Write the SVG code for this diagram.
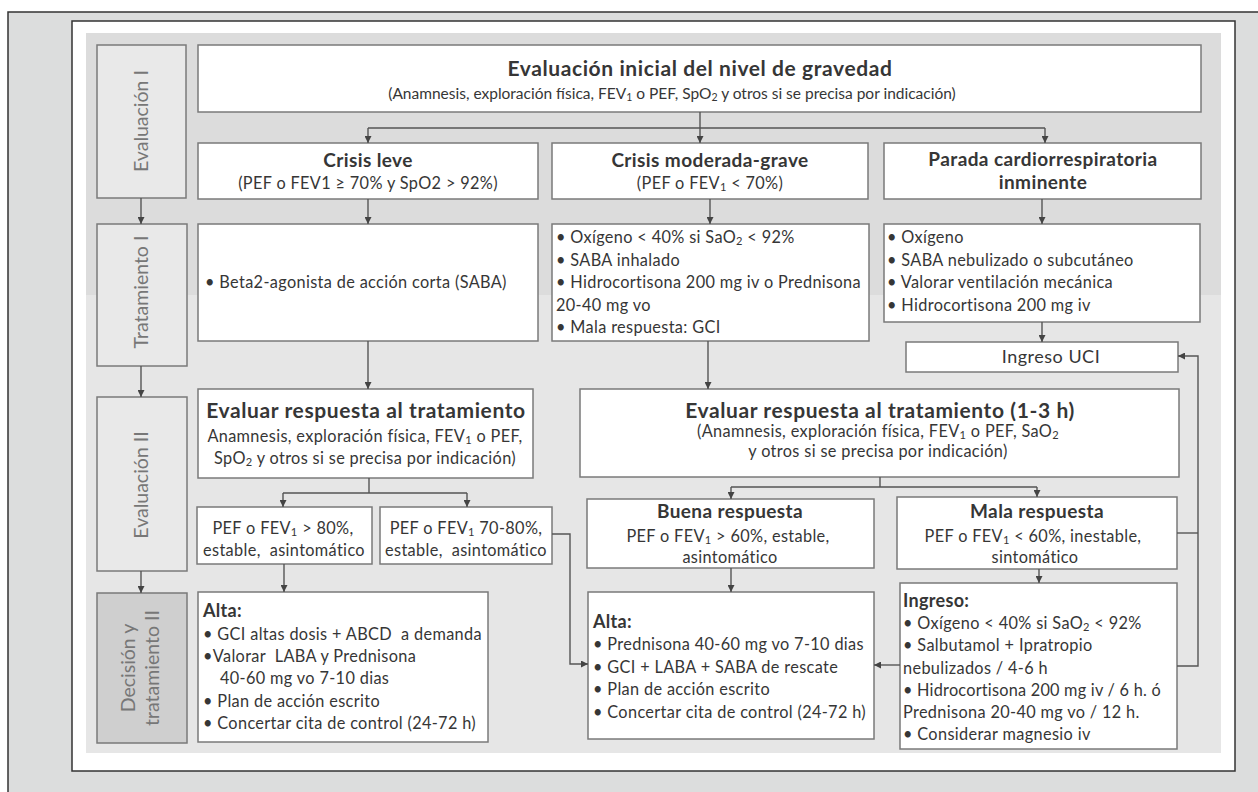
<svg xmlns="http://www.w3.org/2000/svg" width="1258" height="792" viewBox="0 0 1258 792">
<style>
  text { font-family: Lato, "Liberation Sans", "DejaVu Sans", sans-serif; fill: #363636; }
  .box { fill: #ffffff; stroke: #7a7a7a; stroke-width: 1.5; }
  .lab { fill: #e9e9e9; stroke: #7a7a7a; stroke-width: 1.5; }
  .labd { fill: #cfcfcf; stroke: #7a7a7a; stroke-width: 1.5; }
  .lt { font-size: 19.5px; fill: #777777; text-anchor: middle; }
  .h1 { font-size: 21px; font-weight: bold; letter-spacing: 0.6px; text-anchor: middle; }
  .h2 { font-size: 19px; font-weight: bold; letter-spacing: 0.4px; text-anchor: middle; }
  .c { font-size: 16.3px; letter-spacing: 0.35px; text-anchor: middle; }
  .sub15 { font-size: 15.5px; text-anchor: middle; }
  .b { font-size: 16.3px; letter-spacing: 0.35px; }
  .bb { font-size: 18px; font-weight: bold; letter-spacing: 0.3px; }
  .uci { font-size: 18px; letter-spacing: 0.5px; text-anchor: middle; }
  .s { font-size: 68%; baseline-shift: -22%; }
  .con { fill: none; stroke: #555; stroke-width: 1.4; }
  .arr { fill: none; stroke: #555; stroke-width: 1.4; marker-end: url(#ah); }
</style>
<defs>
  <marker id="ah" viewBox="0 0 8 8" refX="8" refY="4" markerWidth="7" markerHeight="7" markerUnits="userSpaceOnUse" orient="auto">
    <path d="M0,0 L8,4 L0,8 z" fill="#444"/>
  </marker>
</defs>

<!-- background frames -->
<rect x="8" y="12" width="1262" height="800" fill="#dcdddd" stroke="#333" stroke-width="1.5"/>
<rect x="72" y="21" width="1163" height="750" fill="#ffffff" stroke="#333" stroke-width="1.5"/>
<rect x="86" y="33" width="1135" height="262" fill="#dcdcdc"/>
<rect x="86" y="295" width="1135" height="458" fill="#e6e6e6"/>

<!-- left column labels -->
<g id="lab-eval1">
  <rect class="lab" x="97" y="45" width="89" height="153"/>
  <text class="lt" transform="translate(141,121) rotate(-90)" y="7">Evaluación I</text>
</g>
<g id="lab-trat1">
  <rect class="lab" x="97" y="224" width="90" height="142"/>
  <text class="lt" transform="translate(141,292) rotate(-90)" y="7">Tratamiento I</text>
</g>
<g id="lab-eval2">
  <rect class="lab" x="97" y="397" width="90" height="174"/>
  <text class="lt" transform="translate(141,485) rotate(-90)" y="7">Evaluación II</text>
</g>
<g id="lab-dec2">
  <rect class="labd" x="97" y="593" width="90" height="150"/>
  <text class="lt" transform="translate(141,668) rotate(-90)"><tspan x="0" y="-6">Decisión y</tspan><tspan x="0" y="18">tratamiento II</tspan></text>
</g>

<!-- nodes -->
<g id="eval-inicial">
  <rect class="box" x="198" y="45" width="1003" height="67"/>
  <text class="h1" x="700" y="76">Evaluación inicial del nivel de gravedad</text>
  <text class="sub15" x="672" y="99">(Anamnesis, exploración física, FEV<tspan class="s">1</tspan> o PEF, SpO<tspan class="s">2</tspan> y otros si se precisa por indicación)</text>
</g>

<g id="crisis-leve">
  <rect class="box" x="198" y="143" width="340" height="56"/>
  <text class="h2" x="368" y="167">Crisis leve</text>
  <text class="c" x="368" y="189">(PEF o FEV1 ≥ 70% y SpO2 &gt; 92%)</text>
</g>
<g id="crisis-mod">
  <rect class="box" x="552" y="143" width="316" height="56"/>
  <text class="h2" x="710" y="167">Crisis moderada-grave</text>
  <text class="c" x="710" y="189">(PEF o FEV<tspan class="s">1</tspan> &lt; 70%)</text>
</g>
<g id="parada">
  <rect class="box" x="884" y="143" width="317" height="56"/>
  <text class="h2" x="1043" y="166">Parada cardiorrespiratoria</text>
  <text class="h2" x="1043" y="189">inminente</text>
</g>

<g id="trat-leve">
  <rect class="box" x="198" y="224" width="340" height="117"/>
  <text class="b" x="205" y="288">• Beta2-agonista de acción corta (SABA)</text>
</g>
<g id="trat-mod">
  <rect class="box" x="552" y="224" width="317" height="117"/>
  <text class="b" x="556" y="243">• Oxígeno &lt; 40% si SaO<tspan class="s">2</tspan> &lt; 92%</text>
  <text class="b" x="556" y="265.5">• SABA inhalado</text>
  <text class="b" x="556" y="288">• Hidrocortisona 200 mg iv o Prednisona</text>
  <text class="b" x="556" y="310.5">20-40 mg vo</text>
  <text class="b" x="556" y="333">• Mala respuesta: GCI</text>
</g>
<g id="trat-parada">
  <rect class="box" x="884" y="224" width="316" height="98"/>
  <text class="b" x="887" y="243">• Oxígeno</text>
  <text class="b" x="887" y="265.5">• SABA nebulizado o subcutáneo</text>
  <text class="b" x="887" y="288">• Valorar ventilación mecánica</text>
  <text class="b" x="887" y="310.5">• Hidrocortisona 200 mg iv</text>
</g>
<g id="ingreso-uci">
  <rect class="box" x="906" y="342" width="272" height="30"/>
  <text class="uci" x="1051" y="363">Ingreso UCI</text>
</g>

<g id="eval-resp-leve">
  <rect class="box" x="198" y="389" width="335" height="89"/>
  <text class="h1" x="366" y="418">Evaluar respuesta al tratamiento</text>
  <text class="c" x="365" y="442">Anamnesis, exploración física, FEV<tspan class="s">1</tspan> o PEF,</text>
  <text class="c" x="365" y="464">SpO<tspan class="s">2</tspan> y otros si se precisa por indicación)</text>
</g>
<g id="eval-resp-mod">
  <rect class="box" x="580" y="389" width="599" height="88"/>
  <text class="h1" x="880" y="418">Evaluar respuesta al tratamiento (1-3 h)</text>
  <text class="c" x="878" y="437">(Anamnesis, exploración física, FEV<tspan class="s">1</tspan> o PEF, SaO<tspan class="s">2</tspan></text>
  <text class="c" x="878" y="457">y otros si se precisa por indicación)</text>
</g>

<g id="resp-80">
  <rect class="box" x="197" y="507" width="175" height="57"/>
  <text class="c" x="283" y="534">PEF o FEV<tspan class="s">1</tspan> &gt; 80%,</text>
  <text class="c" x="284" y="556" xml:space="preserve">estable,  asintomático</text>
</g>
<g id="resp-70-80">
  <rect class="box" x="380" y="507" width="172" height="57"/>
  <text class="c" x="466" y="534">PEF o FEV<tspan class="s">1</tspan> 70-80%,</text>
  <text class="c" x="466" y="556" xml:space="preserve">estable,  asintomático</text>
</g>
<g id="buena">
  <rect class="box" x="587" y="499" width="287" height="69"/>
  <text class="h2" x="730" y="518">Buena respuesta</text>
  <text class="c" x="728" y="542">PEF o FEV<tspan class="s">1</tspan> &gt; 60%, estable,</text>
  <text class="c" x="730" y="563">asintomático</text>
</g>
<g id="mala">
  <rect class="box" x="897" y="497" width="280" height="72"/>
  <text class="h2" x="1037" y="518">Mala respuesta</text>
  <text class="c" x="1033" y="542">PEF o FEV<tspan class="s">1</tspan> &lt; 60%, inestable,</text>
  <text class="c" x="1035" y="563">sintomático</text>
</g>

<g id="alta-leve">
  <rect class="box" x="198" y="592" width="290" height="150"/>
  <text class="bb" x="203" y="617">Alta:</text>
  <text class="b" x="203" y="640" xml:space="preserve">• GCI altas dosis + ABCD  a demanda</text>
  <text class="b" x="203" y="662" xml:space="preserve">•Valorar  LABA y Prednisona</text>
  <text class="b" x="220" y="684">40-60 mg vo 7-10 dias</text>
  <text class="b" x="203" y="707">• Plan de acción escrito</text>
  <text class="b" x="203" y="729">• Concertar cita de control (24-72 h)</text>
</g>
<g id="alta-mod">
  <rect class="box" x="588" y="592" width="286" height="147"/>
  <text class="bb" x="593" y="628">Alta:</text>
  <text class="b" x="593" y="650">• Prednisona 40-60 mg vo 7-10 dias</text>
  <text class="b" x="593" y="673">• GCI + LABA + SABA de rescate</text>
  <text class="b" x="593" y="695">• Plan de acción escrito</text>
  <text class="b" x="593" y="718">• Concertar cita de control (24-72 h)</text>
</g>
<g id="ingreso">
  <rect class="box" x="900" y="583" width="277" height="166"/>
  <text class="bb" x="903" y="607">Ingreso:</text>
  <text class="b" x="903" y="629">• Oxígeno &lt; 40% si SaO<tspan class="s">2</tspan> &lt; 92%</text>
  <text class="b" x="903" y="651">• Salbutamol + Ipratropio</text>
  <text class="b" x="903" y="674">nebulizados / 4-6 h</text>
  <text class="b" x="903" y="696" textLength="258">• Hidrocortisona 200 mg iv / 6 h. ó</text>
  <text class="b" x="903" y="718">Prednisona 20-40 mg vo / 12 h.</text>
  <text class="b" x="903" y="740">• Considerar magnesio iv</text>
</g>

<!-- connectors -->
<g id="connectors">
  <path class="arr" d="M141,198 V224"/>
  <path class="arr" d="M141,366 V397"/>
  <path class="arr" d="M141,571 V593"/>

  <path class="con" d="M700,112 V128"/>
  <path class="con" d="M368,128 H1045"/>
  <path class="arr" d="M368,128 V143"/>
  <path class="arr" d="M700,128 V143"/>
  <path class="arr" d="M1045,128 V143"/>

  <path class="arr" d="M368,199 V224"/>
  <path class="arr" d="M710,199 V224"/>
  <path class="arr" d="M1042,199 V224"/>
  <path class="arr" d="M1042,322 V342"/>

  <path class="arr" d="M368,341 V389"/>
  <path class="arr" d="M708,341 V389"/>

  <path class="con" d="M369,478 V493"/>
  <path class="con" d="M283,493 H467"/>
  <path class="arr" d="M283,493 V507"/>
  <path class="arr" d="M467,493 V507"/>

  <path class="con" d="M880,477 V487"/>
  <path class="con" d="M731,487 H1037"/>
  <path class="arr" d="M731,487 V499"/>
  <path class="arr" d="M1037,487 V497"/>

  <path class="arr" d="M284,564 V592"/>
  <path class="arr" d="M552,534 H570 V664 H588"/>
  <path class="arr" d="M731,568 V592"/>
  <path class="arr" d="M1039,569 V583"/>
  <path class="arr" d="M900,665 H874"/>
  <path class="arr" d="M1177,666 H1198 V356 H1178"/>
  <path class="con" d="M1177,533 H1198"/>
</g>
</svg>
